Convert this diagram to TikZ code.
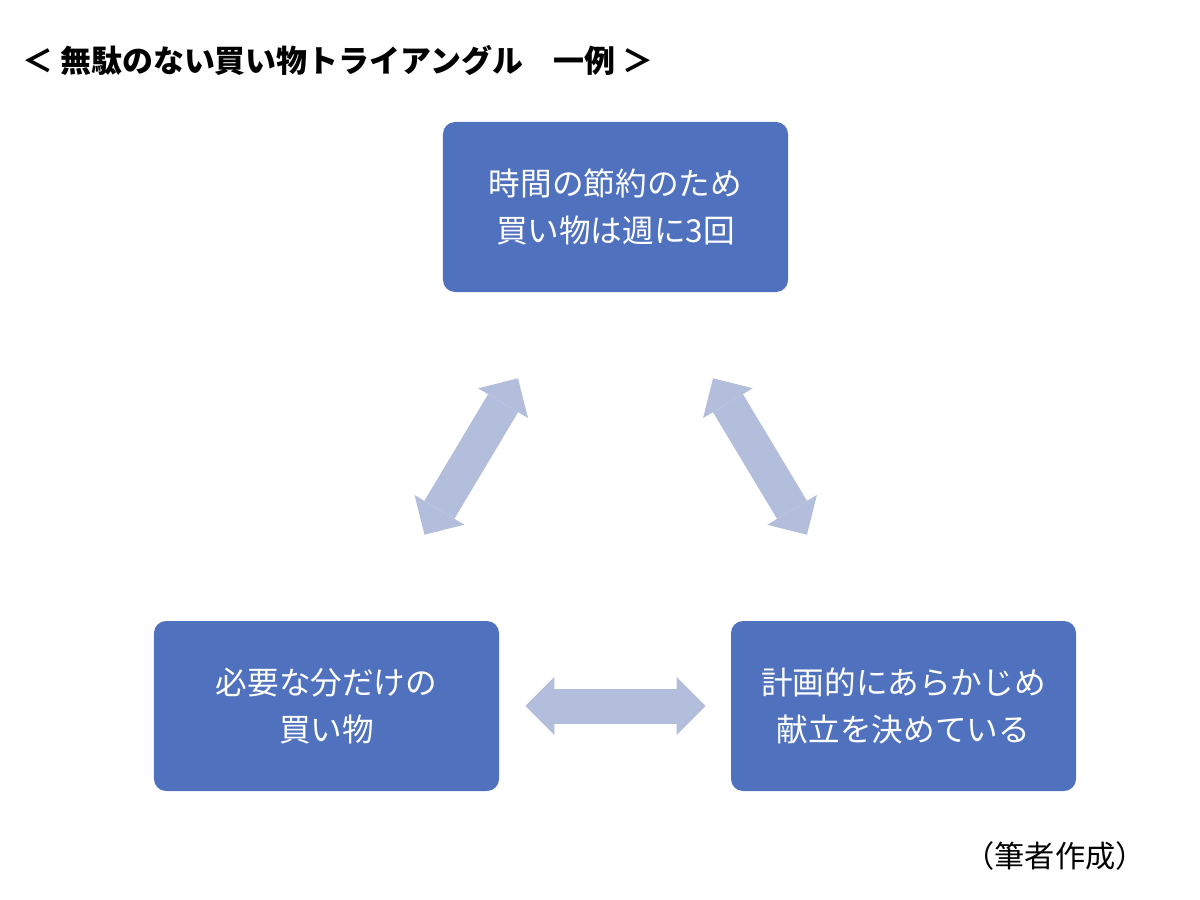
\documentclass[tikz,border=0pt]{standalone}
\usepackage{fontspec}
\setmainfont{Noto Sans CJK JP}
\usepackage{tikz}
\usetikzlibrary{arrows.meta,positioning,calc}
\definecolor{bleuBoite}{RGB}{80,114,190}
\definecolor{bleuFleche}{RGB}{178,190,220}

\tikzset{
  boite/.style={fill=bleuBoite, draw=none, rounded corners=3mm, text=white,
    minimum width=86.25mm, minimum height=42.5mm, align=center,
    font=\fontsize{22.5}{34}\selectfont},
  dblfleche/.style={draw=bleuFleche, line width=8.75mm,
    {Triangle[length=7.25mm,width=14.5mm,line width=0pt]}-{Triangle[length=7.25mm,width=14.5mm,line width=0pt]}}
}

\begin{document}
\begin{tikzpicture}[x=0.25mm, y=-0.25mm]

\useasboundingbox (0,0) rectangle (1200,900);

\node[anchor=west, inner sep=0pt, font=\fontsize{22}{26}\selectfont\bfseries] (titre) at (22,60)
  {＜ 無駄のない買い物トライアングル　一例 ＞};

\node[boite] (haut) at (615.5,207) {時間の節約のため\\買い物は週に3回};
\node[boite] (gauche) at (326.5,706) {必要な分だけの\\買い物};
\node[boite] (droite) at (903.5,706) {計画的にあらかじめ\\献立を決めている};

\draw[dblfleche] ([shift={(98,-86)}]gauche.north) -- ([shift={(-97.5,86)}]haut.south);
\draw[dblfleche] ([shift={(97.5,86)}]haut.south) -- ([shift={(-96.5,-86)}]droite.north);
\draw[dblfleche, shorten <=6.5mm, shorten >=6.25mm] (gauche.east) -- (droite.west);

\node[font=\fontsize{21.5}{26}\selectfont] (source) at (1055,856) {（筆者作成）};

\end{tikzpicture}
\end{document}
